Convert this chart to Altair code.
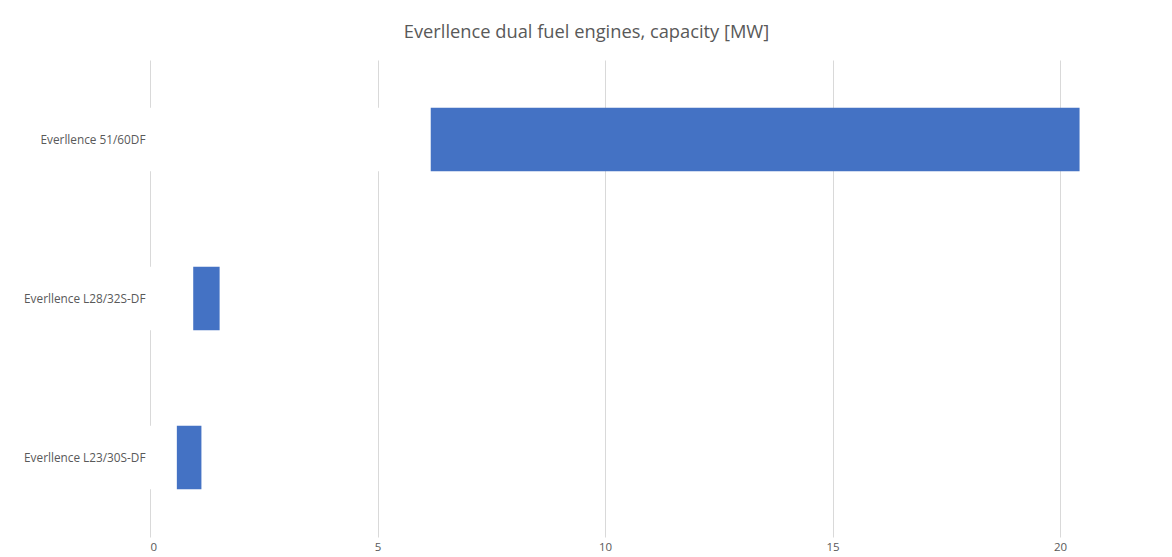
import altair as alt
import pandas as pd

# Everllence dual fuel engines: output range per engine family, in MW
engines = ["Everllence 51/60DF", "Everllence L28/32S-DF", "Everllence L23/30S-DF"]
cap_min = [6.17, 0.95, 0.59]
cap_max = [20.43, 1.53, 1.13]
ticks = [0, 5, 10, 15, 20]

BLUE = "#4472c4"
GREY = "#595959"
FONT = "Open Sans"

df = pd.DataFrame({"engine": engines, "lo": cap_min, "hi": cap_max, "zero": [0] * len(engines)})

y = alt.Y("engine:N", sort=engines, title=None,
          scale=alt.Scale(paddingInner=0.6, paddingOuter=0.3),
          axis=alt.Axis(domain=False, ticks=False, labelColor=GREY, labelFontSize=11.8,
                        labelFont=FONT, labelPadding=5, labelLimit=200))
x_scale = alt.Scale(domain=[0, 22], nice=False)

# Excel-style floating bar: an invisible (white) base segment hides the gridlines under it
base = alt.Chart(df).mark_bar(color="white").encode(
    x=alt.X("zero:Q", scale=x_scale, title=None,
            axis=alt.Axis(values=ticks, domain=False, ticks=False, grid=True, gridColor="#d9d9d9",
                          labelColor=GREY, labelFontSize=11.5, labelFont=FONT, labelPadding=4)),
    x2="lo:Q",
    y=y,
)
bars = alt.Chart(df).mark_bar(color=BLUE).encode(
    x=alt.X("lo:Q", scale=x_scale),
    x2="hi:Q",
    y=y,
    tooltip=["engine", "lo", "hi"],
)

chart = (
    alt.layer(base, bars)
    .properties(
        width=1001, height=477,
        title=alt.TitleParams("Everllence dual fuel engines, capacity [MW]", font=FONT, fontSize=18.3,
                              fontWeight="normal", color=GREY, dx=-64, offset=18),
        autosize=alt.AutoSizeParams(type="none"),
        padding={"left": 142, "top": 52, "right": 12, "bottom": 22},
        background="white",
    )
    .configure_view(stroke=None)
)

chart.save("out.html", embed_options={"renderer": "svg", "actions": False})
